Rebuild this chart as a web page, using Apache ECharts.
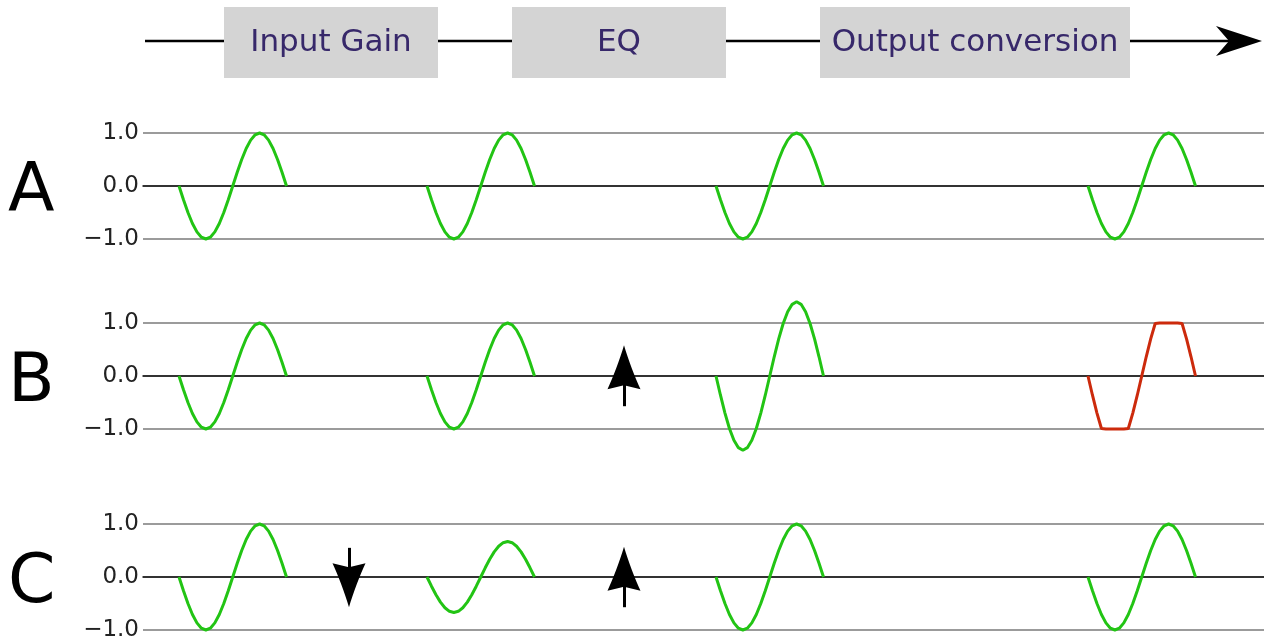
<!DOCTYPE html>
<html>
<head>
<meta charset="utf-8">
<script src="https://cdn.jsdelivr.net/npm/echarts@6/dist/echarts.min.js"></script>
<style>
  html, body { margin: 0; padding: 0; background: #fff; }
  #chart { width: 1264px; height: 644px; }
</style>
</head>
<body>
<div id="chart"></div>
<script>
// one period of the test signal, sampled every 15 degrees (starts going down)
const waveShape = [0, -0.259, -0.5, -0.707, -0.866, -0.966, -1, -0.966, -0.866, -0.707, -0.5, -0.259,
  0, 0.259, 0.5, 0.707, 0.866, 0.966, 1, 0.966, 0.866, 0.707, 0.5, 0.259, 0]
const period = 107.5
const segmentStarts = [36, 284, 573, 945]

const rowLabels = ['A', 'B', 'C']
const stages = ['Input Gain', 'EQ', 'Output conversion']

// amplitude of the signal after each stage, per row
const ampA = [1, 1, 1, 1]
const ampB = [1, 1, 1.4, 1.4]
const ampC = [1, 0.67, 1, 1]
// converter limit (only B clips)
const clipA = [null, null, null, null]
const clipB = [null, null, null, 1]
const clipC = [null, null, null, null]

// gain change arrows: x position, tail value, tip value
const arrowsA = []
const arrowsB = [[481, -0.57, 0.58]]
const arrowsC = [[206, 0.55, -0.57], [481, -0.57, 0.57]]

const rows = [
  { amp: ampA, clip: clipA, arrows: arrowsA },
  { amp: ampB, clip: clipB, arrows: arrowsB },
  { amp: ampC, clip: clipC, arrows: arrowsC }
]
const gridTops = [133, 323, 524]
const gridH = 106

// arrow head (path symbols are centred on the line end, so pull the end back by half its length)
const headW = 33
const headL = 44
const arrowHead = 'path://M16,0 C20,14 27,32 32,43 L16,39 L0,43 C5,32 12,14 16,0 Z'
const halfHead = (headL / 2) / (gridH / 2)

let ch = echarts.init(document.getElementById('chart'))

let grids = []
let xAxes = []
let yAxes = []
let series = []
let graphics = []

rows.forEach((row, r) => {
  grids.push({ left: 143, right: 0, top: gridTops[r], height: gridH })
  xAxes.push({
    gridIndex: r,
    type: 'value',
    min: 0,
    max: 1121,
    axisLine: { show: true, onZero: true, lineStyle: { color: '#111', width: 1.5 } },
    axisTick: { show: false },
    axisLabel: { show: false },
    splitLine: { show: false }
  })
  yAxes.push({
    gridIndex: r,
    type: 'value',
    min: -1,
    max: 1,
    interval: 1,
    axisLine: { show: false },
    axisTick: { show: false },
    axisLabel: {
      show: true,
      margin: 4,
      color: '#222',
      fontSize: 23,
      fontFamily: 'DejaVu Sans',
      formatter: v => (v < 0 ? '\u2212' : '') + Math.abs(v).toFixed(1)
    },
    splitLine: { show: true, lineStyle: { color: '#7a7a7a', width: 1.5 } }
  })

  segmentStarts.forEach((x0, s) => {
    let lim = row.clip[s]
    let pts = waveShape.map((v, i) => {
      let y = v * row.amp[s]
      if (lim != null) y = Math.max(-lim, Math.min(lim, y))
      return [x0 + i * period / (waveShape.length - 1), y]
    })
    series.push({
      type: 'line',
      xAxisIndex: r,
      yAxisIndex: r,
      data: pts,
      showSymbol: false,
      clip: false,
      smooth: false,
      animation: false,
      lineStyle: { color: lim != null ? '#cc2a0c' : '#22c414', width: 3 }
    })
  })

  if (row.arrows.length) {
    series.push({
      type: 'line',
      xAxisIndex: r,
      yAxisIndex: r,
      data: [],
      animation: false,
      markLine: {
        silent: true,
        animation: false,
        symbol: ['none', arrowHead],
        symbolSize: [headW, headL],
        label: { show: false },
        lineStyle: { color: '#000', width: 3, type: 'solid' },
        data: row.arrows.map(a => {
          let dir = a[2] > a[1] ? 1 : -1
          return [{ coord: [a[0], a[1]] }, { coord: [a[0], a[2] - dir * halfHead] }]
        })
      }
    })
  }

  graphics.push({
    type: 'text',
    left: 8,
    top: gridTops[r] + gridH / 2 - 27,
    style: { text: rowLabels[r], fontSize: 68, fontFamily: 'DejaVu Sans', fill: '#000' }
  })
})

// signal chain at the top
const boxLeft = [224, 512, 820]
const boxWidth = [214, 214, 310]
graphics.push({
  type: 'line',
  shape: { x1: 145, y1: 41, x2: 1232, y2: 41 },
  style: { stroke: '#000', lineWidth: 2.5 }
})
graphics.push({
  type: 'polygon',
  shape: { points: [[1262, 41], [1216, 26], [1229, 41], [1216, 56]] },
  style: { fill: '#000' }
})
stages.forEach((name, i) => {
  graphics.push({
    type: 'rect',
    shape: { x: boxLeft[i], y: 7, width: boxWidth[i], height: 71 },
    style: { fill: '#d4d4d4' }
  })
  graphics.push({
    type: 'text',
    x: boxLeft[i] + boxWidth[i] / 2,
    y: 43,
    style: {
      text: name,
      fontSize: 31,
      fontFamily: 'DejaVu Sans',
      fill: '#37286a',
      textAlign: 'center',
      textVerticalAlign: 'middle'
    }
  })
})

let option = {
  animation: false,
  textStyle: { fontFamily: 'DejaVu Sans' },
  grid: grids,
  xAxis: xAxes,
  yAxis: yAxes,
  series: series,
  graphic: graphics
}
ch.setOption(option)
</script>
</body>
</html>
